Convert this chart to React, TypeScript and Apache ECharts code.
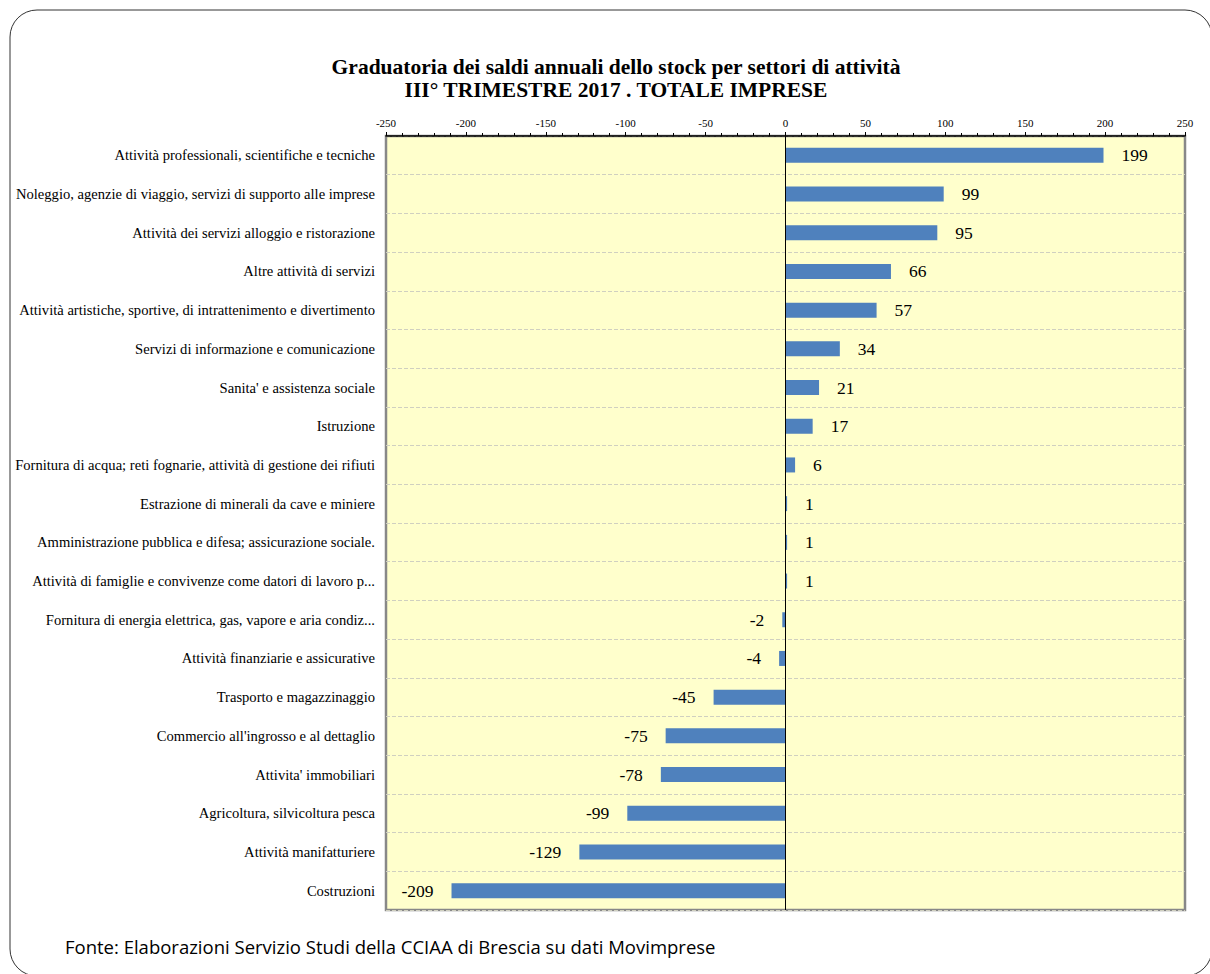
import React, { useEffect, useRef } from "react";
import * as echarts from "echarts";

const categories = [
  "Attività professionali, scientifiche e tecniche",
  "Noleggio, agenzie di viaggio, servizi di supporto alle imprese",
  "Attività dei servizi alloggio e ristorazione",
  "Altre attività di servizi",
  "Attività artistiche, sportive, di intrattenimento e divertimento",
  "Servizi di informazione e comunicazione",
  "Sanita' e assistenza sociale",
  "Istruzione",
  "Fornitura di acqua; reti fognarie, attività di gestione dei rifiuti",
  "Estrazione di minerali da cave e miniere",
  "Amministrazione pubblica e difesa; assicurazione sociale.",
  "Attività di famiglie e convivenze come datori di lavoro p...",
  "Fornitura di energia elettrica, gas, vapore e aria condiz...",
  "Attività finanziarie e assicurative",
  "Trasporto e magazzinaggio",
  "Commercio all'ingrosso e al dettaglio",
  "Attivita' immobiliari",
  "Agricoltura, silvicoltura pesca",
  "Attività manifatturiere",
  "Costruzioni",
];

const values = [199, 99, 95, 66, 57, 34, 21, 17, 6, 1, 1, 1, -2, -4, -45, -75, -78, -99, -129, -209];

const titleLines = [
  "Graduatoria dei saldi annuali dello stock per settori di attività",
  "III° TRIMESTRE 2017 . TOTALE IMPRESE",
];
const sourceNote = "Fonte: Elaborazioni Servizio Studi della CCIAA di Brescia su dati Movimprese";

const SERIF = "'Liberation Serif', 'DejaVu Serif', serif";

export default function App() {
  const ref = useRef<HTMLDivElement>(null);
  useEffect(() => {
    if (!ref.current) return;
    const chart = echarts.init(ref.current, undefined, { renderer: "svg" });
    const data = values.map((v) => ({
      value: v,
      label: { position: v >= 0 ? "right" : "left" },
    }));
    chart.setOption({
      animation: false,
      backgroundColor: "#ffffff",
      title: {
        text: titleLines.join("\n"),
        left: 611,
        textAlign: "center",
        top: 50,
        textStyle: {
          fontFamily: SERIF,
          fontWeight: "bold",
          fontSize: 21.5,
          lineHeight: 23,
          color: "#000",
        },
      },
      graphic: [
        {
          type: "rect",
          shape: { x: 10, y: 10, width: 1202, height: 966, r: 27 },
          style: { fill: "none", stroke: "#333", lineWidth: 1 },
          silent: true,
          z: 0,
        },
        {
          type: "text",
          left: 65,
          top: 937,
          style: {
            text: sourceNote,
            font: "18.5px 'Open Sans', 'Noto Sans', sans-serif",
            fill: "#000",
          },
        },
      ],
      grid: {
        left: 386,
        right: 25,
        top: 136,
        bottom: 64,
        show: true,
        backgroundColor: "#FFFFCC",
        borderColor: "#888888",
        borderWidth: 2.5,
      },
      xAxis: {
        type: "value",
        position: "top",
        min: -250,
        max: 250,
        interval: 50,
        axisLine: { show: true, lineStyle: { color: "#000", width: 1.5 } },
        axisTick: { show: true, length: 4, lineStyle: { color: "#000" } },
        minorTick: { show: true, splitNumber: 5, length: 3, lineStyle: { color: "#000" } },
        splitLine: { show: false },
        axisLabel: { fontFamily: SERIF, fontSize: 11, color: "#000", margin: 8 },
      },
      yAxis: {
        type: "category",
        data: categories,
        inverse: true,
        axisLine: { show: false },
        axisTick: { show: false },
        axisLabel: { fontFamily: SERIF, fontSize: 14.6, color: "#000", margin: 11 },
        splitLine: { show: true, lineStyle: { color: "#D0D0C0", type: "dashed", width: 1 } },
      },
      series: [
        {
          type: "bar",
          data,
          barWidth: 15,
          itemStyle: { color: "#4F81BD" },
          label: {
            show: true,
            distance: 18,
            fontFamily: SERIF,
            fontSize: 17.5,
            color: "#000",
          },
          markLine: {
            silent: true,
            symbol: "none",
            label: { show: false },
            lineStyle: { color: "#000", type: "solid", width: 1 },
            data: [{ xAxis: 0 }],
          },
        },
      ],
    });
    return () => chart.dispose();
  }, []);
  return (
    <div
      ref={ref}
      style={{ position: "fixed", left: 0, top: 0, width: 1210, height: 974 }}
    />
  );
}
